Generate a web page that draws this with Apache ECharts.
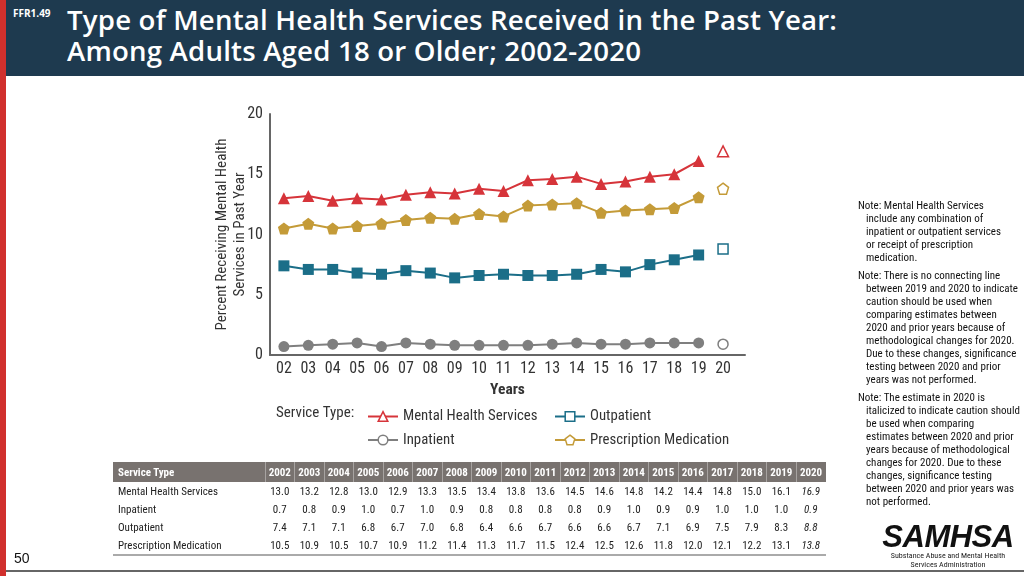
<!DOCTYPE html>
<html><head><meta charset="utf-8">
<script src="https://cdn.jsdelivr.net/npm/echarts@6/dist/echarts.min.js"></script>
<style>
html,body{margin:0;padding:0;width:1024px;height:576px;overflow:hidden;background:#fff;}
#chart{position:absolute;left:0;top:0;width:1024px;height:576px;}
.narrow{font-family:'Liberation Sans Narrow','Arial Narrow','Roboto Condensed',sans-serif;}
#header{position:absolute;left:0;top:0;width:1024px;height:76px;background:#1e3a4f;}
#redbar{position:absolute;left:0;top:0;width:6px;height:576px;background:#d1302d;}
#ffr{position:absolute;left:13px;top:6px;color:#fff;font:700 10px 'Open Sans',sans-serif;}
#title{position:absolute;left:67px;top:4px;color:#fff;font:600 27.6px/31px 'Open Sans',sans-serif;letter-spacing:0.2px;white-space:nowrap;}
#notes{position:absolute;left:858px;top:199px;font-size:11px;line-height:13px;color:#111;white-space:nowrap;}
#notes p{margin:0 0 5px 0;padding-left:8px;text-indent:-8px;}
#tbl{position:absolute;left:113px;top:462px;border-collapse:collapse;font-size:11px;color:#222;}
#tbl th{background:#78726f;color:#fff;font-weight:700;height:20px;padding:0;text-align:center;border-left:1px solid rgba(255,255,255,0.35);}
#tbl th:first-child{text-align:left;padding-left:5px;border-left:none;}
#tbl td{height:18px;padding:0;text-align:center;width:29.5px;}
#tbl td:first-child{text-align:left;padding-left:5px;width:147px;}
#tbl tr:last-child td{border-bottom:2px solid #aaa;}
#pg{position:absolute;left:14px;top:550px;font:14px 'Liberation Sans',Arial,sans-serif;color:#111;}
#bline{position:absolute;left:6px;top:570px;width:1018px;height:2px;background:#666;}
#logo{position:absolute;left:870px;top:522px;width:156px;text-align:center;}
#logo .big{font:italic 900 31px/30px 'Liberation Sans',Arial,sans-serif;color:#111;letter-spacing:-0.5px;}
#logo .small{font-size:8px;line-height:8.5px;color:#222;}
</style></head>
<body>
<div id="chart"></div>
<div id="header"></div>
<div id="redbar"></div>
<div id="ffr">FFR1.49</div>
<div id="title">Type of Mental Health Services Received in the Past Year:<br>Among Adults Aged 18 or Older; 2002-2020</div>
<div id="notes" class="narrow">
<p>Note: Mental Health Services<br>include any combination of<br>inpatient or outpatient services<br>or receipt of prescription<br>medication.</p>
<p>Note: There is no connecting line<br>between 2019 and 2020 to indicate<br>caution should be used when<br>comparing estimates between<br>2020 and prior years because of<br>methodological changes for 2020.<br>Due to these changes, significance<br>testing between 2020 and prior<br>years was not performed.</p>
<p>Note: The estimate in 2020 is<br>italicized to indicate caution should<br>be used when comparing<br>estimates between 2020 and prior<br>years because of methodological<br>changes for 2020. Due to these<br>changes, significance testing<br>between 2020 and prior years was<br>not performed.</p>
</div>
<table id="tbl" class="narrow"></table>
<div id="pg">50</div>
<div id="bline"></div>
<div id="logo"><div class="big">SAMHSA</div><div class="small narrow">Substance Abuse and Mental Health<br>Services Administration</div></div>
<script>
var years = ['2002','2003','2004','2005','2006','2007','2008','2009','2010','2011','2012','2013','2014','2015','2016','2017','2018','2019','2020'];
var tickLabels = ['02','03','04','05','06','07','08','09','10','11','12','13','14','15','16','17','18','19','20'];
var mentalHealth = [13.0,13.2,12.8,13.0,12.9,13.3,13.5,13.4,13.8,13.6,14.5,14.6,14.8,14.2,14.4,14.8,15.0,16.1,16.9];
var inpatient = [0.7,0.8,0.9,1.0,0.7,1.0,0.9,0.8,0.8,0.8,0.8,0.9,1.0,0.9,0.9,1.0,1.0,1.0,0.9];
var outpatient = [7.4,7.1,7.1,6.8,6.7,7.0,6.8,6.4,6.6,6.7,6.6,6.6,6.7,7.1,6.9,7.5,7.9,8.3,8.8];
var prescription = [10.5,10.9,10.5,10.7,10.9,11.2,11.4,11.3,11.7,11.5,12.4,12.5,12.6,11.8,12.0,12.1,12.2,13.1,13.8];
var seriesNames = ['Mental Health Services','Inpatient','Outpatient','Prescription Medication'];
var yTicks = [0,5,10,15,20];

var NARROW = "'Liberation Sans Narrow','Arial Narrow','Roboto Condensed',sans-serif";
var colors = ['#d6343a','#7f7f7f','#1b6e88','#c49b38'];
var pent = 'path://M0,-10 L9.5,-3.1 L5.9,8.1 L-5.9,8.1 L-9.5,-3.1 Z';
var symbols = ['triangle','circle','rect',pent];
var sizes = [12,11,11,12];
var allData = [mentalHealth,inpatient,outpatient,prescription];

// table
var tbl = document.getElementById('tbl');
var h = '<tr><th>Service Type</th>' + years.map(function(y){return '<th>'+y+'</th>';}).join('') + '</tr>';
allData.forEach(function(arr,i){
  h += '<tr><td>'+seriesNames[i]+'</td>' + arr.map(function(v,j){
    var s = v.toFixed(1);
    return '<td>' + (j===arr.length-1 ? '<i>'+s+'</i>' : s) + '</td>';
  }).join('') + '</tr>';
});
tbl.innerHTML = h;

var yearNums = years.map(function(y){return +y - 2000;});
var series = [];
allData.forEach(function(arr,i){
  var main = arr.slice(0, arr.length-1).map(function(v,j){return [yearNums[j], v];});
  var last = [[yearNums[arr.length-1], arr[arr.length-1]]];
  series.push({
    name: seriesNames[i], type:'line', data: main, symbol: symbols[i], symbolSize: sizes[i],
    lineStyle:{color:colors[i], width:2}, itemStyle:{color:colors[i]}, z:3
  });
  series.push({
    name: seriesNames[i]+' 2020', type:'line', data: last, symbol: symbols[i], symbolSize: sizes[i]-1,
    lineStyle:{width:0}, itemStyle:{color:'#fff', borderColor:colors[i], borderWidth:1.5}, z:3
  });
});

function legendItems(idx){
  return idx.map(function(i){
    return {name: seriesNames[i],
      itemStyle:{color:'#fff', borderColor:colors[i], borderWidth:1.5}};
  });
}

var chart = echarts.init(document.getElementById('chart'), null, {renderer:'canvas'});
var legendText = {fontFamily:NARROW, fontSize:14.8, color:'#333'};
chart.setOption({
  animation:false,
  grid:{left:270, top:114, width:475, height:241, containLabel:false},
  xAxis:{
    type:'value', min:1.43, max:20.9,
    axisLine:{show:true, lineStyle:{color:'#666', width:2}},
    axisTick:{show:false},
    splitLine:{show:false},
    axisLabel:{customValues: yearNums, fontFamily:NARROW, fontSize:16, color:'#333', margin:6,
      formatter:function(v){ var k = yearNums.indexOf(Math.round(v)); return k>=0 ? tickLabels[k] : ''; }},
    name:'Years', nameLocation:'middle', nameGap:27,
    nameTextStyle:{fontFamily:NARROW, fontSize:15.5, color:'#333', fontWeight:'bold'}
  },
  yAxis:{
    type:'value', min:0, max:20, interval:5,
    axisLine:{show:true, lineStyle:{color:'#666', width:2}},
    axisTick:{show:false},
    splitLine:{show:false},
    axisLabel:{customValues: yTicks, fontFamily:NARROW, fontSize:16, color:'#333', margin:7},
    name:'Percent Receiving Mental Health\nServices in Past Year', nameLocation:'middle', nameGap:21,
    nameMoveOverlap:false,
    nameTextStyle:{fontFamily:NARROW, fontSize:15, color:'#333', lineHeight:18}
  },
  legend:[
    {data: legendItems([0,1]), orient:'vertical', left:362, top:404, itemWidth:30, itemHeight:12, itemGap:8.5,
     textStyle:legendText, selectedMode:false},
    {data: legendItems([2,3]), orient:'vertical', left:549, top:404, itemWidth:30, itemHeight:12, itemGap:8.5,
     textStyle:legendText, selectedMode:false}
  ],
  graphic:[
    {type:'text', left:276, top:406, style:{text:'Service Type:', fontFamily:NARROW, fontSize:15, fill:'#333'}}
  ],
  series: series
});
</script>
</body></html>
